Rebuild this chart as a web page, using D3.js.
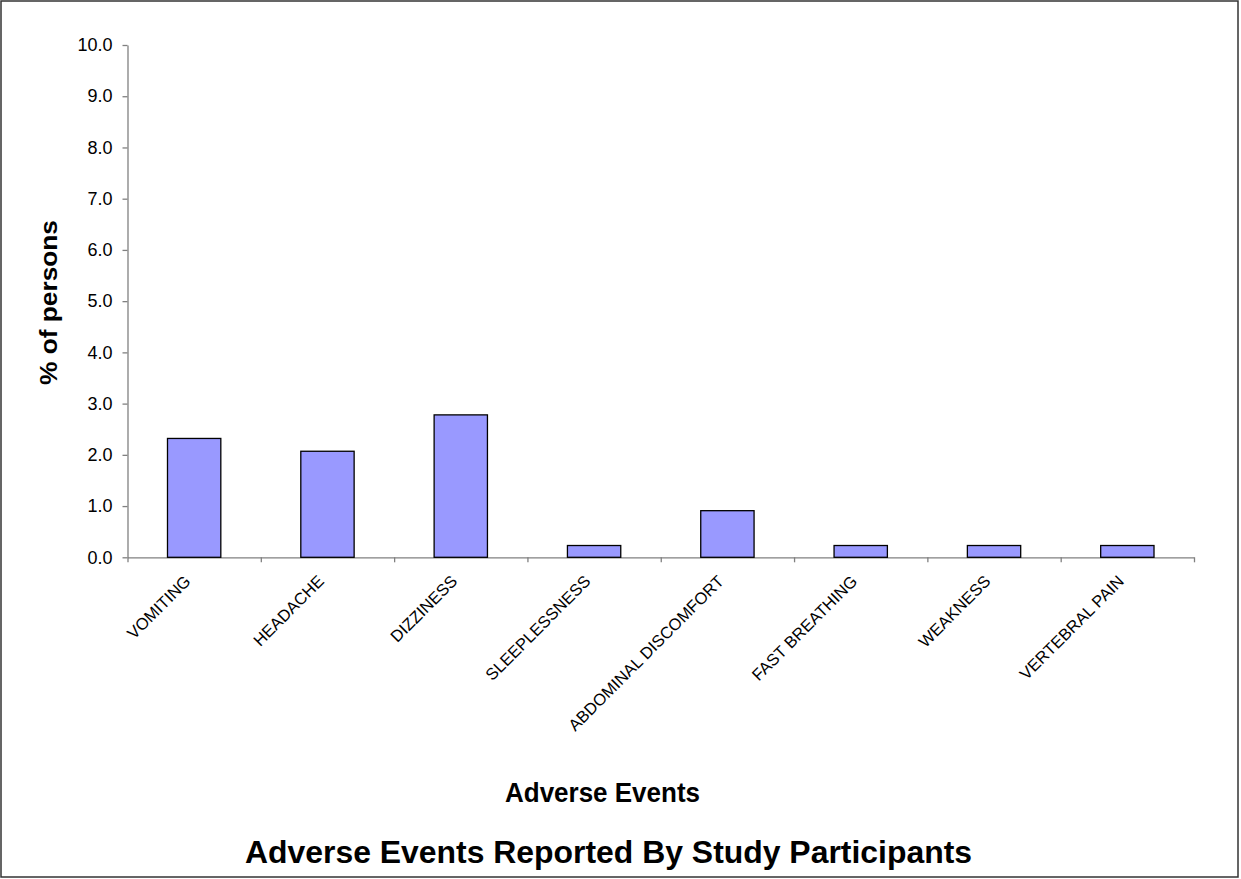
<!DOCTYPE html>
<html>
<head>
<meta charset="utf-8">
<script src="https://cdn.jsdelivr.net/npm/d3@7"></script>
<style>
  body { margin: 0; background: #fff; }
  svg { display: block; }
  svg text { font-family: "Liberation Sans", Arial, sans-serif; }
  .y-axis path, .y-axis line, .x-axis path, .x-axis line { stroke: #808080; stroke-width: 1.3; }
</style>
</head>
<body>
<div id="chart"></div>
<script>
// data
const categories = ["VOMITING", "HEADACHE", "DIZZINESS", "SLEEPLESSNESS",
  "ABDOMINAL DISCOMFORT", "FAST BREATHING", "WEAKNESS", "VERTEBRAL PAIN"];
const percents = [2.32, 2.07, 2.78, 0.23, 0.91, 0.23, 0.23, 0.23];
const yTicks = [0, 1, 2, 3, 4, 5, 6, 7, 8, 9, 10];

let width = 1241,
    height = 879,
    margin = ({ top: 45, right: 47, bottom: 321.7, left: 127.5 });

const svg = d3.select("#chart")
  .append("svg")
  .attr("width", width)
  .attr("height", height);

// outer frame
svg.append("rect")
  .attr("x", 1).attr("y", 1)
  .attr("width", 1237).attr("height", 876)
  .attr("fill", "none")
  .attr("stroke", "#333")
  .attr("stroke-width", 1.5);

let y = d3.scaleLinear()
  .domain([0, 10])
  .range([height - margin.bottom, margin.top]);

let x = d3.scaleBand()
  .domain(categories)
  .range([margin.left, width - margin.right])
  .paddingInner(0.6)
  .paddingOuter(0.3);

// index scale just for the tick marks between categories
let xEdge = d3.scaleLinear()
  .domain([0, categories.length])
  .range([margin.left, width - margin.right]);

svg.append("g")
  .attr("class", "y-axis")
  .attr("transform", `translate(${margin.left},0)`)
  .call(d3.axisLeft(y).tickValues(yTicks).tickFormat(d3.format(".1f"))
    .tickSize(5).tickSizeOuter(0).tickPadding(10))
  .call(g => g.selectAll("text").attr("fill", "#000").style("font-size", "18px"));

svg.append("g")
  .attr("class", "x-axis")
  .attr("transform", `translate(0,${y(0)})`)
  .call(d3.axisBottom(xEdge).tickValues(d3.range(categories.length + 1))
    .tickFormat("").tickSize(5).tickSizeOuter(0));

// bars
svg.append("g")
  .selectAll("rect")
  .data(categories)
  .join("rect")
  .attr("x", d => x(d))
  .attr("y", (d, i) => y(percents[i]))
  .attr("width", x.bandwidth())
  .attr("height", (d, i) => y(0) - y(percents[i]))
  .attr("fill", "#9999ff")
  .attr("stroke", "#000")
  .attr("stroke-width", 1.3);

// rotated category labels
svg.append("g")
  .selectAll("text")
  .data(categories)
  .join("text")
  .attr("transform", d => `translate(${x(d) + x.bandwidth() / 2 - 2.5},${y(0) + 25}) rotate(-45)`)
  .attr("text-anchor", "end")
  .style("font-size", "16.5px")
  .text(d => d);

// axis titles
svg.append("text")
  .attr("transform", "translate(57,302.5) rotate(-90)")
  .attr("text-anchor", "middle")
  .attr("font-weight", "bold")
  .style("font-size", "24px")
  .attr("textLength", 165)
  .attr("lengthAdjust", "spacingAndGlyphs")
  .text("% of persons");

svg.append("text")
  .attr("x", 602.5).attr("y", 802)
  .attr("text-anchor", "middle")
  .attr("font-weight", "bold")
  .style("font-size", "27px")
  .attr("textLength", 195)
  .attr("lengthAdjust", "spacingAndGlyphs")
  .text("Adverse Events");

svg.append("text")
  .attr("x", 608.5).attr("y", 863)
  .attr("text-anchor", "middle")
  .attr("font-weight", "bold")
  .style("font-size", "31px")
  .attr("textLength", 727)
  .attr("lengthAdjust", "spacingAndGlyphs")
  .text("Adverse Events Reported By Study Participants");
</script>
</body>
</html>
